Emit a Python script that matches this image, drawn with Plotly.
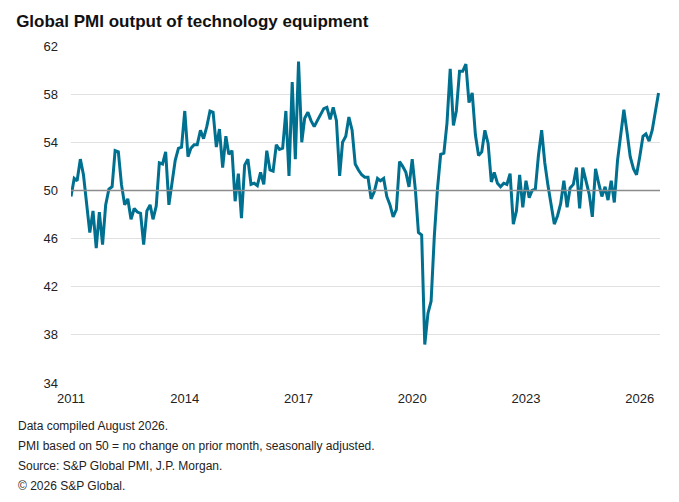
import plotly.graph_objects as go
import pandas as pd

start_month = "2011-01-01"
pmi = [
 49.5,51.0,50.8,52.6,51.3,49.0,46.5,48.3,45.2,48.2,45.5,48.8,
 50.1,50.3,53.3,53.2,50.5,48.8,49.3,47.6,48.5,48.2,48.1,45.5,
 48.3,48.8,47.6,48.7,52.3,52.2,53.2,48.8,50.5,52.5,53.5,53.6,
 56.6,52.8,53.5,53.8,53.8,55.0,54.3,55.3,56.6,56.5,53.6,55.1,
 51.9,54.5,53.0,53.3,49.1,51.4,47.7,52.1,52.6,50.5,50.6,50.4,
 51.5,50.5,53.3,51.7,51.6,53.8,53.4,53.5,56.6,51.2,59.0,52.6,
 60.7,54.0,56.0,56.5,55.8,55.3,55.8,56.3,56.8,56.9,55.9,56.9,
 55.8,51.2,54.0,54.5,56.1,55.0,52.2,51.7,51.3,51.1,51.1,49.3,
 49.9,51.0,50.8,51.0,49.5,48.8,47.8,48.4,52.4,52.0,51.5,50.3,
 52.6,50.0,46.5,46.3,37.2,39.8,40.8,46.2,50.2,53.0,53.1,55.6,
 60.1,55.4,56.6,59.9,59.9,60.5,57.3,58.1,54.6,52.9,53.2,55.0,
 53.9,50.7,51.5,50.6,50.3,50.6,50.5,51.4,47.2,48.3,51.3,48.6,
 50.8,49.4,50.0,50.1,52.9,55.0,52.3,50.4,48.6,47.2,47.9,48.9,
 50.8,48.6,50.2,50.5,51.9,48.5,51.9,50.7,49.7,47.8,51.8,50.6,
 49.5,50.3,49.2,50.8,49.0,52.5,54.8,56.7,54.8,52.8,51.8,51.3,
 52.8,54.5,54.7,54.1,55.0,56.5,58.1,
]
dates = pd.date_range(start_month, periods=len(pmi), freq="MS")
tick_vals = ["2011-01-01","2014-01-01","2017-01-01","2020-01-01","2023-01-01","2026-01-01"]
tick_text = ["2011","2014","2017","2020","2023","2026"]
y_ticks = [34,38,42,46,50,54,58,62]

fig = go.Figure()
fig.add_trace(go.Scatter(x=dates, y=pmi, mode="lines",
    line=dict(color="#007090", width=3), hoverinfo="skip"))
fig.add_hline(y=50, line=dict(color="#8c8c8c", width=1.5))
fig.update_layout(
    width=679, height=502, paper_bgcolor="white", plot_bgcolor="white",
    margin=dict(l=63, r=27, t=38, b=127, autoexpand=False), showlegend=False,
    font=dict(family="Liberation Sans, Arial", size=13, color="#222"),
    title=dict(text="<b>Global PMI output of technology equipment</b>",
               x=0.012, xanchor="left", y=0.985, yanchor="top",
               font=dict(size=17, color="#111")),
)
fig.update_xaxes(range=[pd.Timestamp("2011-01-01"), pd.Timestamp("2026-07-15")],
    tickvals=tick_vals, ticktext=tick_text, showgrid=False, ticks="",
    showline=False, ticklabelstandoff=6, tickfont=dict(size=13, color="#222"))
fig.update_yaxes(range=[34,62], tickvals=y_ticks, showgrid=True,
    gridcolor="#e0e0e0", gridwidth=1, zeroline=False, ticks="",
    ticklabelstandoff=12, tickfont=dict(size=13, color="#222"))
notes = ["Data compiled August 2026.",
         "PMI based on 50 = no change on prior month, seasonally adjusted.",
         "Source: S&P Global PMI, J.P. Morgan.",
         "© 2026 S&P Global."]
for i, t in enumerate(notes):
    fig.add_annotation(text=t, xref="paper", yref="paper", x=0, y=0,
        xshift=-55, yshift=-34 - i*20,
        xanchor="left", yanchor="top", showarrow=False, font=dict(size=12, color="#222"))
fig.write_html("out.html")
